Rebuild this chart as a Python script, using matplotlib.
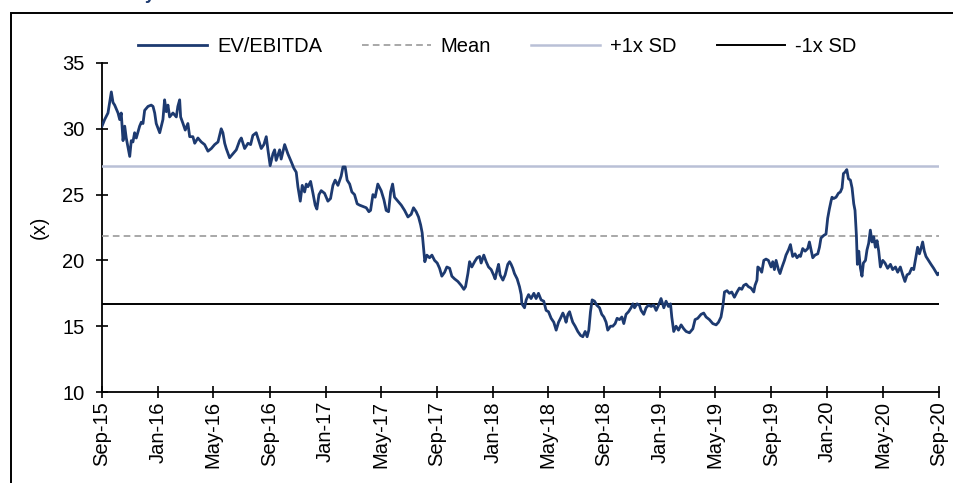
import matplotlib
matplotlib.use("Agg")
import matplotlib.pyplot as plt
from matplotlib.patches import Rectangle
import pandas as pd

plt.rcParams['font.family'] = ['Liberation Sans', 'DejaVu Sans']

# time in months since Sep-2015
months = [
    0.00, 0.19, 0.43, 0.67, 0.79, 0.91, 1.15, 1.27, 1.38, 1.51, 1.63, 1.74, 1.99, 2.10, 2.22, 2.34, 2.46,
    2.70, 2.82, 2.94, 3.06, 3.30, 3.53, 3.66, 3.78, 3.89, 4.14, 4.37, 4.49, 4.61, 4.73, 4.85, 5.09, 5.33,
    5.44, 5.57, 5.64, 5.81, 5.97, 6.16, 6.29, 6.52, 6.65, 6.88, 7.12, 7.36, 7.60, 7.84, 8.08, 8.32, 8.55,
    8.67, 8.80, 8.91, 9.15, 9.39, 9.63, 9.87,
    9.99, 10.23, 10.47, 10.66, 10.82, 11.06, 11.18, 11.42, 11.61, 11.78, 11.90, 12.06, 12.26, 12.38, 12.49,
    12.74, 12.85, 13.10, 13.33, 13.57, 13.76, 13.93, 14.05, 14.22, 14.36, 14.53, 14.65, 14.77, 14.96, 15.13,
    15.29, 15.41, 15.56, 15.72, 15.96, 16.20, 16.39, 16.56, 16.72, 16.92, 17.15, 17.28, 17.44, 17.58, 17.76,
    17.92, 18.11, 18.30, 18.47, 18.71, 18.95, 19.14, 19.26, 19.43, 19.59, 19.78,
    20.02, 20.22, 20.38, 20.55, 20.70, 20.84, 20.98, 21.22, 21.46, 21.70, 21.94, 22.17, 22.34, 22.53, 22.70,
    22.85, 22.96, 23.06, 23.15, 23.30, 23.49, 23.66, 23.85, 24.04, 24.21, 24.37, 24.57, 24.73, 24.93, 25.09,
    25.28, 25.52, 25.76, 25.95, 26.07, 26.24, 26.36, 26.52, 26.72, 26.90, 27.08, 27.19, 27.38, 27.55, 27.72,
    27.91, 28.08, 28.19, 28.34, 28.44, 28.55, 28.75, 28.91, 29.10, 29.23, 29.34, 29.46, 29.58, 29.77, 29.94,
    30.06,
    30.11, 30.30, 30.42, 30.59, 30.77, 30.97, 31.13, 31.30, 31.49, 31.68, 31.85, 32.02, 32.21, 32.40, 32.57,
    32.74, 32.88, 33.05, 33.17, 33.28, 33.41, 33.53, 33.64, 33.76, 33.93, 34.12, 34.32, 34.48, 34.65, 34.79,
    34.91, 35.03, 35.15, 35.32, 35.48, 35.68, 35.84, 35.99, 36.15, 36.27, 36.47, 36.63, 36.80, 36.94, 37.11,
    37.28, 37.42, 37.58, 37.76, 37.94, 38.07, 38.19, 38.37, 38.54, 38.66, 38.85, 39.02, 39.19, 39.38, 39.57,
    39.74, 39.91, 40.09,
    40.29, 40.45, 40.62, 40.77, 40.86, 41.00, 41.17, 41.34, 41.53, 41.72, 41.89, 42.13, 42.37, 42.53, 42.72,
    42.96, 43.15, 43.32, 43.56, 43.80, 44.04, 44.21, 44.39, 44.52, 44.64, 44.82, 44.99, 45.16, 45.35, 45.54,
    45.71, 45.88, 46.02, 46.19, 46.36, 46.54, 46.74, 46.83, 46.97, 47.03, 47.15, 47.31, 47.46, 47.62, 47.79,
    47.98, 48.10, 48.22, 48.34, 48.51, 48.62, 48.77, 48.94, 49.05, 49.23, 49.37, 49.53, 49.70, 49.84, 50.01,
    50.09, 50.25, 50.42, 50.61, 50.73, 50.85, 50.97, 51.13, 51.33, 51.45, 51.56, 51.76, 51.92, 52.04, 52.16,
    52.28, 52.35, 52.47, 52.64, 52.81, 52.95, 53.07, 53.17, 53.28, 53.41, 53.53, 53.67, 53.79, 53.91, 54.00,
    54.10, 54.17, 54.27, 54.39, 54.50, 54.60, 54.75, 54.86, 54.98, 55.10, 55.22, 55.34, 55.46, 55.58, 55.70,
    55.82, 55.99, 56.15, 56.34, 56.54, 56.70, 56.90, 57.06, 57.25, 57.42, 57.58, 57.73, 57.90, 58.06, 58.21,
    58.37, 58.49, 58.62, 58.73, 58.85, 58.97, 59.09, 59.27, 59.45, 59.64, 59.81, 59.92, 60.00,
]

ev_ebitda = [
    30.2, 30.7, 31.2, 32.8, 32.0, 31.8, 31.2, 30.7, 31.2, 29.1, 30.2, 29.3, 27.9, 29.1, 29.0, 29.7, 29.3,
    30.2, 30.5, 30.4, 31.4, 31.7, 31.8, 31.7, 31.2, 30.4, 29.7, 30.7, 32.2, 31.3, 31.8, 30.9, 31.2, 30.9,
    31.7, 32.2, 30.9, 30.4, 29.9, 30.4, 29.4, 29.4, 28.9, 29.3, 29.0, 28.8, 28.3, 28.5, 28.8, 29.0, 30.0,
    29.7, 28.9, 28.5, 27.8, 28.1, 28.4, 29.1,
    29.3, 28.5, 28.9, 28.8, 29.5, 29.7, 29.3, 28.5, 28.8, 29.4, 28.4, 27.2, 28.1, 28.4, 27.6,
    28.4, 27.7, 28.8, 28.1, 27.5, 27.0, 26.7, 25.6, 24.5, 25.7, 25.2, 25.8, 25.6, 26.0, 25.1,
    24.2, 23.9, 25.0, 25.3, 25.1, 24.5, 24.7, 25.7, 26.1, 25.7, 26.4, 27.1, 27.1, 26.1, 25.8,
    25.2, 25.0, 24.3, 24.2, 24.1, 24.0, 23.7, 23.8, 25.0, 24.8, 25.8,
    25.3, 24.6, 23.8, 23.7, 25.2, 25.8, 24.8, 24.5, 24.2, 23.8, 23.3, 23.5, 24.0, 23.7, 23.3,
    22.7, 22.1, 20.9, 19.9, 20.4, 20.2, 20.4, 20.0, 19.8, 19.4, 18.8, 19.1, 19.5, 19.4, 18.8,
    18.6, 18.4, 18.1, 17.8, 18.0, 19.0, 19.9, 19.5, 19.9, 20.2, 20.3, 19.8, 20.4, 19.9, 19.5,
    19.3, 18.9, 18.6, 19.3, 19.7, 18.9, 18.5, 18.9, 19.7, 19.9, 19.7, 19.4, 19.0, 18.6, 18.0,
    17.4,
    16.7, 16.4, 17.0, 17.4, 17.1, 17.5, 17.1, 17.5, 17.0, 16.9, 16.2, 16.1, 15.6, 15.3, 14.7,
    15.3, 15.6, 16.0, 15.7, 15.3, 15.9, 16.1, 15.7, 15.3, 15.0, 14.6, 14.3, 14.2, 14.6, 14.2,
    14.7, 16.1, 17.0, 16.9, 16.6, 16.4, 15.9, 15.7, 15.3, 14.7, 15.0, 15.0, 15.2, 15.6, 15.5,
    15.7, 15.2, 15.9, 16.1, 16.4, 16.7, 16.4, 16.7, 16.6, 16.2, 15.9, 16.4, 16.6, 16.5, 16.6,
    16.2, 16.6, 17.1,
    16.4, 16.9, 16.5, 16.7, 15.7, 14.6, 15.0, 14.7, 15.1, 14.8, 14.6, 14.5, 14.8, 15.5, 15.6,
    15.9, 16.0, 15.7, 15.5, 15.2, 15.1, 15.3, 15.7, 16.5, 17.6, 17.7, 17.5, 17.6, 17.2, 17.6,
    17.9, 17.8, 18.1, 18.2, 18.0, 17.9, 17.6, 18.1, 18.5, 19.5, 19.4, 19.1, 20.0, 20.1, 20.0,
    19.5, 19.9, 19.3, 20.0, 19.3, 19.0, 19.5, 20.0, 20.4, 20.8, 21.2, 20.3, 20.5, 20.2, 20.4,
    20.3, 20.9, 20.7, 20.9, 21.4, 20.8, 20.2, 20.4, 20.5, 21.0, 21.7, 21.9, 22.0, 23.2, 23.9,
    24.5, 24.8, 24.7, 24.8, 25.1, 25.2, 25.5, 26.6, 26.7, 26.9, 26.2, 26.1, 25.5, 24.3, 23.8,
    21.9, 19.7, 20.7, 19.4, 18.8, 19.8, 20.0, 20.8, 21.3, 22.3, 21.4, 21.8, 21.0, 21.5, 20.7,
    19.5, 20.0, 19.8, 19.4, 19.7, 19.3, 19.5, 19.1, 19.5, 18.9, 18.4, 18.9, 19.0, 19.4, 19.3,
    20.3, 21.0, 20.5, 20.9, 21.4, 20.7, 20.3, 20.0, 19.7, 19.4, 19.1, 18.9, 19.0,
]

mean_val = 21.85
plus_sd = 27.15
minus_sd = 16.7

tick_labels = ['Sep-15', 'Jan-16', 'May-16', 'Sep-16', 'Jan-17', 'May-17', 'Sep-17', 'Jan-18',
               'May-18', 'Sep-18', 'Jan-19', 'May-19', 'Sep-19', 'Jan-20', 'May-20', 'Sep-20']

start = pd.Timestamp('2015-09-01')
dates = [start + pd.Timedelta(days=float(m) * 30.4375) for m in months]
tick_dates = [pd.to_datetime(t, format='%b-%y') for t in tick_labels]

fig = plt.figure(figsize=(9.54, 4.83), dpi=100)
ax = fig.add_axes([0.1069, 0.1884, 0.8774, 0.6812])

navy = '#1d3a70'
FS = 14.5
l1, = ax.plot(dates, ev_ebitda, color=navy, lw=2.0, label='EV/EBITDA', zorder=4)
l2 = ax.axhline(mean_val, color='#9a9a9a', lw=1.2, ls=(0, (4, 2.5)), label='Mean', zorder=3)
l3 = ax.axhline(plus_sd, color='#b9c0d6', lw=1.8, label='+1x SD', zorder=3)
l4 = ax.axhline(minus_sd, color='black', lw=1.4, label='-1x SD', zorder=3)

ax.set_xlim(tick_dates[0], tick_dates[-1])
ax.set_ylim(10, 35)
ax.set_yticks([10, 15, 20, 25, 30, 35])
ax.set_xticks(tick_dates)
ax.set_xticklabels(tick_labels, rotation=90)
ax.tick_params(axis='both', direction='inout', length=9, width=1.2, labelsize=FS, colors='black')
ax.tick_params(axis='x', pad=2)
ax.tick_params(axis='y', pad=8)
for s in ['top', 'right']:
    ax.spines[s].set_visible(False)
for s in ['left', 'bottom']:
    ax.spines[s].set_linewidth(1.3)
ax.set_ylabel('(x)', fontsize=FS, labelpad=10)

leg = fig.legend(handles=[l1, l2, l3, l4], loc='center', bbox_to_anchor=(497.5 / 954, 1 - 47 / 483),
                 ncol=4, frameon=False, fontsize=FS, handlelength=3.4, columnspacing=2.0,
                 handletextpad=0.5)

fig.patches.append(Rectangle((0.0115, -0.05), 1.1, 1.023, transform=fig.transFigure,
                             fill=False, edgecolor='black', lw=1.4))
fig.text(0.152, 1.012, 'y', color=navy, fontsize=13, fontweight='bold', ha='left', va='center')

fig.savefig('out.png', dpi=100)
